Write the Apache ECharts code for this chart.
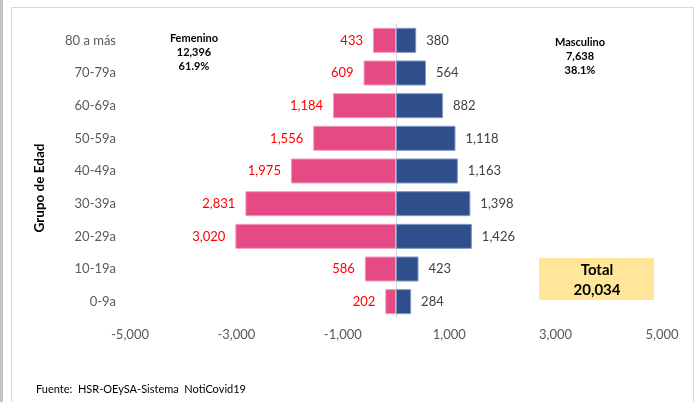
<!DOCTYPE html>
<html><head><meta charset="utf-8">
<script src="https://cdn.jsdelivr.net/npm/echarts@6/dist/echarts.min.js"></script>
<style>html,body{margin:0;padding:0;background:#fff;}#c{width:697px;height:402px;}</style>
</head><body><div id="c"></div>
<script>
const categories = ['80 a más','70-79a','60-69a','50-59a','40-49a','30-39a','20-29a','10-19a','0-9a'];
const femenino = [433, 609, 1184, 1556, 1975, 2831, 3020, 586, 202];
const masculino = [380, 564, 882, 1118, 1163, 1398, 1426, 423, 284];
const xTicks = { min: -5000, max: 5000, interval: 2000 };
const FONT = 'Lato, "Open Sans", sans-serif';
const fmt = v => Math.abs(v).toLocaleString('en-US');
const chart = echarts.init(document.getElementById('c'));
chart.setOption({
  animation: false,
  textStyle: { fontFamily: FONT },
  grid: { left: 130, right: 35, top: 24, bottom: 84, containLabel: false },
  xAxis: {
    type: 'value', min: xTicks.min, max: xTicks.max, interval: xTicks.interval,
    axisLine: { show: false }, axisTick: { show: false }, splitLine: { show: false },
    axisLabel: { color: '#595959', fontSize: 13, fontFamily: FONT, margin: 10, formatter: v => v.toLocaleString('en-US') }
  },
  yAxis: {
    type: 'category', data: categories, inverse: true,
    axisLine: { show: true, onZero: true, lineStyle: { color: '#d9d9d9', width: 1 } },
    axisTick: { show: false },
    axisLabel: { color: '#595959', fontSize: 13, fontFamily: FONT, margin: 14 }
  },
  series: [
    {
      name: 'Femenino', type: 'bar', stack: 'total', barWidth: 25,
      data: femenino.map(v => -v),
      itemStyle: { color: '#E64A85', borderColor: '#F29BBB', borderWidth: 1 },
      label: { show: true, position: 'left', distance: 10, color: '#FF0000', fontSize: 13, fontFamily: FONT, formatter: p => fmt(p.value) }
    },
    {
      name: 'Masculino', type: 'bar', stack: 'total', barWidth: 25,
      data: masculino,
      itemStyle: { color: '#2E4F8B', borderColor: '#7F97C4', borderWidth: 1 },
      label: { show: true, position: 'right', distance: 10, color: '#404040', fontSize: 13, fontFamily: FONT, formatter: p => fmt(p.value) }
    }
  ],
  graphic: [
    { type: 'rect', left: 0, top: 0, shape: { width: 3, height: 402 }, style: { fill: '#c3c3c3' }, silent: true },
    { type: 'rect', shape: { x: 11.5, y: 7.5, width: 682, height: 420 }, style: { fill: 'none', stroke: '#dadada', lineWidth: 1 }, silent: true, z: -1 },
    { type: 'text', x: 40, y: 188, rotation: Math.PI / 2, style: { text: 'Grupo de Edad', font: 'bold 13.5px ' + FONT, fill: '#000', align: 'center', verticalAlign: 'middle' } },
    { type: 'text', x: 194, y: 52, style: { text: 'Femenino\n12,396\n61.9%', font: 'bold 11px ' + FONT, fill: '#000', align: 'center', verticalAlign: 'middle', lineHeight: 14 } },
    { type: 'text', x: 580, y: 56, style: { text: 'Masculino\n7,638\n38.1%', font: 'bold 11px ' + FONT, fill: '#000', align: 'center', verticalAlign: 'middle', lineHeight: 14 } },
    { type: 'rect', shape: { x: 539, y: 258, width: 115, height: 42 }, style: { fill: '#FFE699' } },
    { type: 'text', x: 597, y: 280, style: { text: 'Total\n20,034', font: 'bold 15px ' + FONT, fill: '#000', align: 'center', verticalAlign: 'middle', lineHeight: 20 } },
    { type: 'text', x: 36, y: 389, style: { text: 'Fuente:  HSR-OEySA-Sistema  NotiCovid19', font: '11px ' + FONT, fill: '#000', verticalAlign: 'middle' } }
  ]
});
</script></body></html>
